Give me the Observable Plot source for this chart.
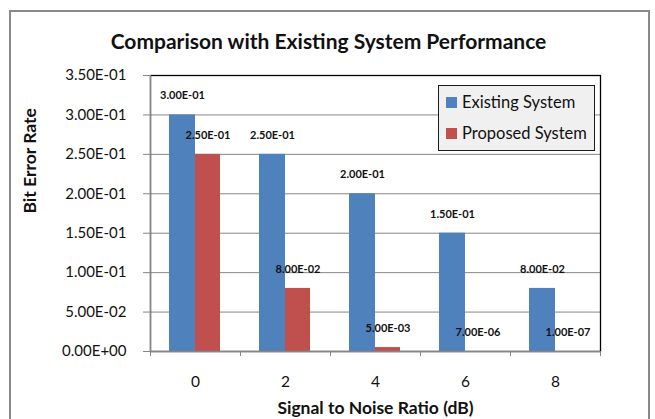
<!DOCTYPE html>
<html>
<head>
<meta charset="utf-8">
<script src="https://cdn.jsdelivr.net/npm/d3@7"></script>
<script src="https://cdn.jsdelivr.net/npm/@observablehq/plot@0.6"></script>
<style>
  html, body { margin: 0; padding: 0; background: #fff; overflow: hidden; }
  #wrap { position: relative; width: 655px; height: 419px; font-family: Lato, "Open Sans", sans-serif; }
  #outline { position: absolute; left: 9px; top: 10px; width: 641px; height: 440px; border: 2px solid #898989; box-sizing: border-box; }
  #chart { position: absolute; left: 0; top: 0; }
  #legend { position: absolute; left: 438px; top: 85px; width: 157px; height: 66px; box-sizing: border-box;
            background: #f0f0f0; border: 1.5px solid #1a1a1a; padding: 7px 0 0 7px; }
  .item { display: flex; align-items: center; font-size: 16.5px; color: #111; white-space: nowrap; height: 18px; }
  .item .sw { width: 11px; height: 11px; margin-right: 5px; }
  .item + .item { margin-top: 13px; }
</style>
</head>
<body>
<div id="wrap">
  <div id="outline"></div>
  <div id="chart"></div>
  <div id="legend"></div>
</div>
<script>
// Bit error rate at each signal-to-noise ratio, for both systems
const snr = ["0", "2", "4", "6", "8"];
const existing = [3.0e-1, 2.5e-1, 2.0e-1, 1.5e-1, 8.0e-2];
const proposed = [2.5e-1, 8.0e-2, 5.0e-3, 7.0e-6, 1.0e-7];
const seriesNames = ["Existing System", "Proposed System"];
const seriesColors = ["#4f81bd", "#c0504d"];
const yTicks = [0, 0.05, 0.10, 0.15, 0.20, 0.25, 0.30, 0.35];

const title = "Comparison with Existing System Performance";
const xTitle = "Signal to Noise Ratio (dB)";
const yTitle = "Bit Error Rate";

// Spreadsheet-style scientific notation: 2.50E-01
const sci = v => v.toExponential(2).replace(/e([+-])(\d+)$/, (m, s, e) => "E" + s + e.padStart(2, "0")).toUpperCase();

const rows = snr.flatMap((x, i) => [
  {snr: x, series: seriesNames[0], value: existing[i]},
  {snr: x, series: seriesNames[1], value: proposed[i]}
]);
const existingRows = rows.filter(d => d.series === seriesNames[0]);
const proposedRows = rows.filter(d => d.series === seriesNames[1]);

const W = 655, H = 419, mL = 150, mR = 55, mT = 75, mB = 68;
const step = (W - mL - mR) / snr.length;   // width of one SNR category
const half = step / 2;
const grid = "#868686";
const font = "Lato, 'Open Sans', sans-serif";

const chart = Plot.plot({
  width: W, height: H,
  marginLeft: mL, marginRight: mR, marginTop: mT, marginBottom: mB,
  style: {fontFamily: font, color: "#111", background: "transparent", overflow: "visible"},
  x: {type: "band", domain: snr, padding: 0, axis: null},
  y: {domain: [0, 0.35], axis: null},
  color: {domain: seriesNames, range: seriesColors},
  marks: [
    Plot.gridY(yTicks, {stroke: grid, strokeOpacity: 1}),
    Plot.frame({stroke: "#000", strokeWidth: 1.3}),
    // the two bars of each category sit side by side around its centre
    Plot.barY(existingRows, {x: "snr", y: "value", fill: d => d.series, insetLeft: 19, insetRight: half}),
    Plot.barY(proposedRows, {x: "snr", y: "value", fill: d => d.series, insetLeft: half, insetRight: 20}),
    Plot.ruleY([0], {stroke: grid, strokeWidth: 1.3}),
    Plot.axisY(yTicks, {tickSize: 7, tickPadding: 17, tickFormat: sci, stroke: grid, fontSize: 15, label: null}),
    Plot.ruleX([snr[0]], {dx: -half, stroke: grid, strokeWidth: 1.3}),
    // category labels, and boundary ticks between categories
    Plot.axisX(snr, {tickSize: 0, tickPadding: 24, fontSize: 15.5, label: null}),
    Plot.axisX(snr, {tickSize: 5, dx: -half, tickFormat: () => "", stroke: grid, label: null}),
    Plot.axisX([snr[snr.length - 1]], {tickSize: 5, dx: half, tickFormat: () => "", stroke: grid, label: null}),
    // value labels
    Plot.text(existingRows, {x: "snr", y: "value", text: d => sci(d.value), dx: 19 / 2 - half / 2, dy: -19, fontSize: 11, fontWeight: "bold"}),
    Plot.text(proposedRows, {x: "snr", y: "value", text: d => sci(d.value), dx: half / 2 - 10, dy: -19, fontSize: 11, fontWeight: "bold"}),
    // titles
    Plot.text([title], {frameAnchor: "top", lineAnchor: "middle", dy: -33, dx: -47, fontSize: 21, fontWeight: "bold"}),
    Plot.text([xTitle], {frameAnchor: "bottom", lineAnchor: "middle", dy: 57, fontSize: 17.5, fontWeight: "bold"}),
    Plot.text([yTitle], {frameAnchor: "left", lineAnchor: "middle", rotate: -90, dx: -120, fontSize: 17.5, fontWeight: "bold"})
  ]
});
document.getElementById("chart").appendChild(chart);

// legend box
const legend = document.getElementById("legend");
seriesNames.forEach((name, i) => {
  const item = document.createElement("div");
  item.className = "item";
  const sw = document.createElement("span");
  sw.className = "sw";
  sw.style.background = seriesColors[i];
  item.appendChild(sw);
  item.appendChild(document.createTextNode(name));
  legend.appendChild(item);
});
</script>
</body>
</html>
